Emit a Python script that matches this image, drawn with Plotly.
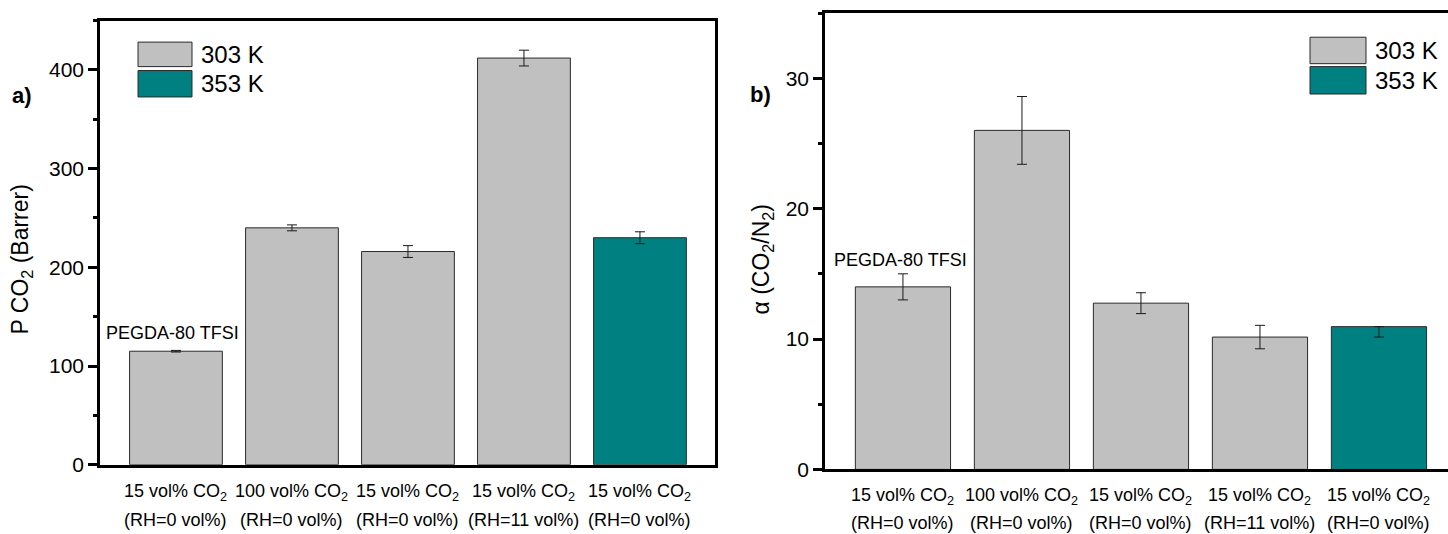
import plotly.graph_objects as go

# Feed conditions (x categories), shared by both panels
feed_gas = ["15 vol% CO<sub>2</sub>", "100 vol% CO<sub>2</sub>", "15 vol% CO<sub>2</sub>",
            "15 vol% CO<sub>2</sub>", "15 vol% CO<sub>2</sub>"]
humidity = ["(RH=0 vol%)", "(RH=0 vol%)", "(RH=0 vol%)", "(RH=11 vol%)", "(RH=0 vol%)"]
temperature = ["303 K", "303 K", "303 K", "303 K", "353 K"]
positions = [1, 2, 3, 4, 5]

# a) CO2 permeability (Barrer)
perm_co2 = [115, 240, 216, 412, 230]
perm_err_plus = [0.8, 3, 6, 8, 6]
perm_err_minus = [0.8, 3, 6, 8, 6]

# b) CO2/N2 selectivity
selectivity = [14.0, 26.0, 12.75, 10.15, 10.95]
sel_err_plus = [1.0, 2.6, 0.8, 0.9, 0.0]
sel_err_minus = [1.0, 2.6, 0.8, 0.9, 0.8]

temp_colors = {"303 K": "#C0C0C0", "353 K": "#008080"}
FONT = "Arial, Liberation Sans, sans-serif"
W, H = 1448, 534

fig = go.Figure()


def add_bars(values, err_p, err_m, xa, ya):
    for temp in ["303 K", "353 K"]:
        idx = [i for i, t in enumerate(temperature) if t == temp]
        fig.add_trace(go.Bar(
            x=[positions[i] for i in idx],
            y=[values[i] for i in idx],
            width=0.8,
            marker=dict(color=temp_colors[temp], line=dict(color="#2a2a2a", width=1)),
            error_y=dict(type="data", symmetric=False,
                         array=[err_p[i] for i in idx],
                         arrayminus=[err_m[i] for i in idx],
                         color="#1a1a1a", thickness=1, width=5),
            name=temp, showlegend=False, xaxis=xa, yaxis=ya,
        ))


add_bars(perm_co2, perm_err_plus, perm_err_minus, "x", "y")
add_bars(selectivity, sel_err_plus, sel_err_minus, "x2", "y2")

xa_common = dict(tickvals=positions, showticklabels=False, showgrid=False, zeroline=False,
                 showline=True, linecolor="black", linewidth=2.5, ticks="")
ya_common = dict(showgrid=False, zeroline=False, showline=True, linecolor="black",
                 linewidth=2.5, ticks="outside", ticklen=9, tickwidth=2.5, tickcolor="black",
                 tickfont=dict(family=FONT, size=21, color="black"),
                 minor=dict(ticks="outside", ticklen=4, tickwidth=2.5, tickcolor="black"))

fig.update_layout(
    width=W, height=H,
    margin=dict(l=0, r=0, t=0, b=0),
    paper_bgcolor="white", plot_bgcolor="white",
    barmode="overlay",
    xaxis=dict(domain=[100 / W, 715 / W], range=[0.345, 5.647], mirror=True, **xa_common),
    yaxis=dict(domain=[(H - 474.5) / H, (H - 21) / H], range=[0, 450], dtick=100,
               minor_dtick=50, mirror=True, **ya_common),
    xaxis2=dict(domain=[825 / W, 1.0], range=[0.345, 5.58], mirror=True, anchor="y2",
                **xa_common),
    yaxis2=dict(domain=[(H - 479.3) / H, (H - 13.3) / H], range=[0, 35], dtick=10,
                minor_dtick=5, anchor="x2", mirror=False, **ya_common),
)


def paper_text(text, px, py, size, angle=0, xanchor="center"):
    return dict(text=text, x=px / W, y=1 - py / H, xref="paper", yref="paper",
                xanchor=xanchor, yanchor="middle", textangle=angle, showarrow=False,
                font=dict(family=FONT, size=size, color="black"))


annotations = [
    paper_text("<b>a)</b>", 22, 97, 22),
    paper_text("<b>b)</b>", 760, 96, 22),
    paper_text("P CO<sub>2</sub> (Barrer)", 22, 265, 23, angle=-90),
    paper_text("α (CO<sub>2</sub>/N<sub>2</sub>)", 763, 265, 23, angle=-90),
    dict(text="PEGDA-80 TFSI", x=0.97, y=133, xref="x", yref="y", showarrow=False,
         font=dict(family=FONT, size=18, color="black")),
    dict(text="PEGDA-80 TFSI", x=0.98, y=16.05, xref="x2", yref="y2", showarrow=False,
         font=dict(family=FONT, size=18, color="black")),
]

# two-line category labels under each panel
for xa, line1_y, line2_y in [("x", 503, 531), ("x2", 507, 534)]:
    for pos, gas, rh in zip(positions, feed_gas, humidity):
        annotations.append(dict(text=gas, x=pos, y=1 - line1_y / H, xref=xa, yref="paper",
                                xanchor="center", yanchor="middle", showarrow=False,
                                font=dict(family=FONT, size=18, color="black")))
        annotations.append(dict(text=rh, x=pos, y=1 - line2_y / H, xref=xa, yref="paper",
                                xanchor="center", yanchor="middle", showarrow=False,
                                font=dict(family=FONT, size=18, color="black")))

# legend swatches drawn as boxes with labels
shapes = []
legend_boxes = [
    (138, 192, 43, 68, 72, 99),      # x0, x1, first box top/bottom, second box top/bottom
    (1310, 1366, 38, 65, 68, 96),
]
for x0, x1, t1, b1, t2, b2 in legend_boxes:
    for temp, top, bot in [("303 K", t1, b1), ("353 K", t2, b2)]:
        shapes.append(dict(type="rect", xref="paper", yref="paper",
                           x0=x0 / W, x1=x1 / W, y0=1 - bot / H, y1=1 - top / H,
                           fillcolor=temp_colors[temp], line=dict(color="#2a2a2a", width=1)))
        annotations.append(paper_text(temp, x1 + 7, (top + bot) / 2, 24, xanchor="left"))

fig.update_layout(annotations=annotations, shapes=shapes)

fig.write_html("out.html")
